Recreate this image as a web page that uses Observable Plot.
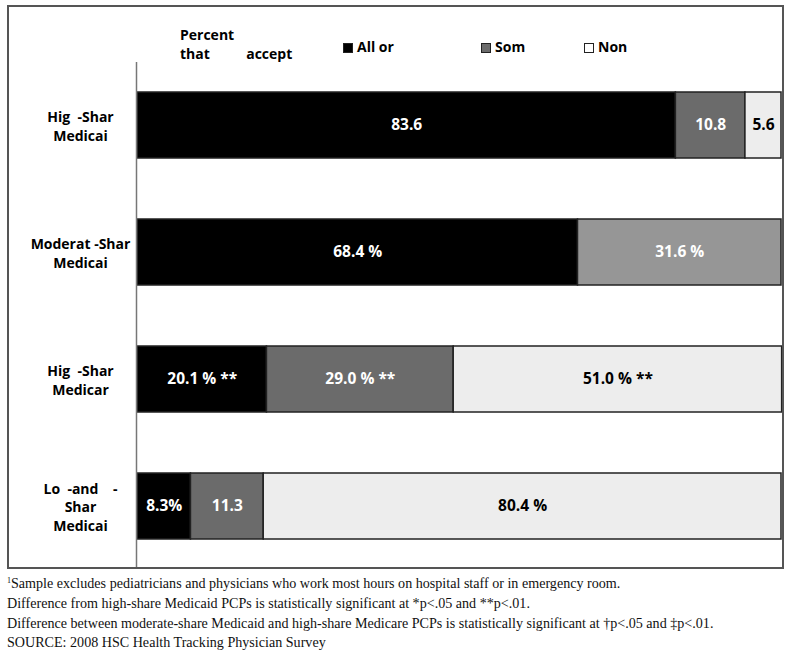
<!DOCTYPE html>
<html>
<head>
<meta charset="utf-8">
<script src="https://cdn.jsdelivr.net/npm/d3@7"></script>
<script src="https://cdn.jsdelivr.net/npm/@observablehq/plot@0.6"></script>
<style>
  html, body { margin: 0; padding: 0; background: #fff; }
  #wrap { position: relative; width: 791px; height: 652px; overflow: hidden; }
  #chart { position: absolute; left: 0; top: 0; }
  #chart svg text { white-space: pre; }
  #frame { position: absolute; left: 7px; top: 5px; width: 777px; height: 564px; border: 2px solid #555; box-sizing: border-box; pointer-events: none; }
  .leg { position: absolute; font-family: "Open Sans", sans-serif; font-weight: bold; font-size: 14px; line-height: 19px; color: #000; white-space: pre; }
  .sw { display: inline-block; width: 10px; height: 10px; box-sizing: border-box; border: 1.5px solid #222; margin-right: 4px; vertical-align: -1px; }
  #notes { position: absolute; left: 7px; top: 571px; font-family: "Liberation Serif", "DejaVu Serif", serif; font-size: 14.1px; line-height: 19.8px; color: #111; white-space: nowrap; }
  #notes sup { font-size: 8px; vertical-align: 5px; }
</style>
</head>
<body>
<div id="wrap">
  <div id="chart"></div>
  <div id="frame"></div>
  <div class="leg" style="left:180px; top:25px;">Percent
that          accept</div>
  <div class="leg" style="left:343px; top:37px;"><span class="sw" style="background:#000"></span>All or</div>
  <div class="leg" style="left:481px; top:37px;"><span class="sw" style="background:#6b6b6b"></span>Som</div>
  <div class="leg" style="left:584px; top:37px;"><span class="sw" style="background:#fff"></span>Non</div>
  <div id="notes">
    <div><sup>1</sup>Sample excludes pediatricians and physicians who work most hours on hospital staff or in emergency room.</div>
    <div>Difference from high-share Medicaid PCPs is statistically significant at *p&lt;.05 and **p&lt;.01.</div>
    <div>Difference between moderate-share Medicaid and high-share Medicare PCPs is statistically significant at †p&lt;.05 and ‡p&lt;.01.</div>
    <div>SOURCE: 2008 HSC Health Tracking Physician Survey</div>
  </div>
</div>
<script>
const rowLabels = [
  "Hig  -Shar\nMedicai",
  "Moderat -Shar\nMedicai",
  "Hig  -Shar\nMedicar",
  "Lo  -and    -\nShar\nMedicai"
];
const categories = ["All or", "Som", "Non"];
const allValues  = [83.6, 68.4, 20.1, 8.3];
const someValues = [10.8, 31.6, 29.0, 11.3];
const noneValues = [5.6, 0, 51.0, 80.4];
const allLabels  = ["83.6", "68.4 %", "20.1 % **", "8.3%"];
const someLabels = ["10.8", "31.6 %", "29.0 % **", "11.3"];
const noneLabels = ["5.6", "", "51.0 % **", "80.4 %"];

const seriesValues = [allValues, someValues, noneValues];
const seriesLabels = [allLabels, someLabels, noneLabels];

const data = [];
rowLabels.forEach((row, i) => {
  categories.forEach((cat, j) => {
    const v = seriesValues[j][i];
    if (v > 0) data.push({row, cat, value: v, label: seriesLabels[j][i], ri: i, ci: j});
  });
});

const baseFill = {"All or": "#000000", "Som": "#6b6b6b", "Non": "#ededed"};
const fillOf = d => (d.ri === 1 && d.ci === 1) ? "#969696" : baseFill[d.cat];

const chart = Plot.plot({
  width: 791,
  height: 572,
  marginLeft: 137,
  marginRight: 10,
  marginTop: 62,
  marginBottom: 3,
  style: {fontFamily: "Open Sans, sans-serif", fontSize: "14px", fontWeight: "bold", background: "transparent"},
  x: {domain: [0, 100], axis: null},
  y: {domain: rowLabels, paddingInner: 0.48, paddingOuter: 0.23, axis: null, label: null},
  marks: [
    Plot.barX(data, Plot.stackX({
      x: "value", y: "row", order: "ci",
      fill: fillOf, stroke: "#222", strokeWidth: 1.5
    })),
    Plot.text(data, Plot.stackX({
      x: "value", y: "row", order: "ci", text: "label",
      fill: d => d.cat === "Non" ? "#000" : "#fff",
      fontSize: 15.5, fontWeight: "bold"
    })),
    Plot.axisY({
      label: null, tickSize: 0, tickPadding: 57, textAnchor: "middle",
      lineHeight: 1.33, fontSize: 14, fontWeight: "bold", fill: "#000"
    }),
    Plot.ruleX([0], {stroke: "#777", strokeWidth: 1.5, dx: -1})
  ]
});
document.getElementById("chart").appendChild(chart);
</script>
</body>
</html>
